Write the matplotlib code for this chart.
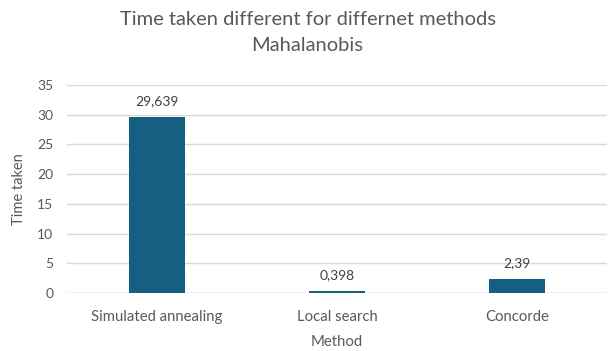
import matplotlib
matplotlib.use("Agg")
import matplotlib.pyplot as plt

methods = ["Simulated annealing", "Local search", "Concorde"]
time_taken = [29.639, 0.398, 2.39]
value_labels = ["29,639", "0,398", "2,39"]
y_ticks = [0, 5, 10, 15, 20, 25, 30, 35]

plt.rcParams["font.family"] = ["Lato", "DejaVu Sans"]

text_grey = "#595959"
bar_color = "#156082"
grid_color = "#d9d9d9"

fig = plt.figure(figsize=(6.15, 3.51), dpi=100)
ax = fig.add_axes([0.109, 0.165, 0.878, 0.593])

x = list(range(len(methods)))
bars = ax.bar(x, time_taken, width=0.316, color=bar_color, zorder=3)

for xi, v, lab in zip(x, time_taken, value_labels):
    ax.annotate(lab, (xi, v), xytext=(0, 7), textcoords="offset points",
                ha="center", va="bottom", fontsize=10, color="#404040")

ax.set_xlim(-0.5, len(methods) - 0.5)
ax.set_ylim(0, 35)
ax.set_yticks(y_ticks)
ax.set_xticks(x)
ax.set_xticklabels(methods, fontsize=10.7)
ax.tick_params(axis="both", length=0, colors=text_grey)
ax.tick_params(axis="y", labelsize=10, pad=10)
ax.tick_params(axis="x", pad=12)
ax.yaxis.grid(True, color=grid_color, linewidth=1, zorder=0)
for s in ax.spines.values():
    s.set_visible(False)
ax.axhline(0, color=grid_color, linewidth=1, zorder=1)

ax.set_ylabel("Time taken", fontsize=10.5, color=text_grey, labelpad=8)
ax.set_xlabel("Method", fontsize=10.7, color=text_grey, labelpad=8)

fig.text(0.5, 0.968, "Time taken different for differnet methods\nMahalanobis",
         ha="center", va="top", fontsize=14.5, color=text_grey, linespacing=1.6)

fig.savefig("out.png", dpi=100)
